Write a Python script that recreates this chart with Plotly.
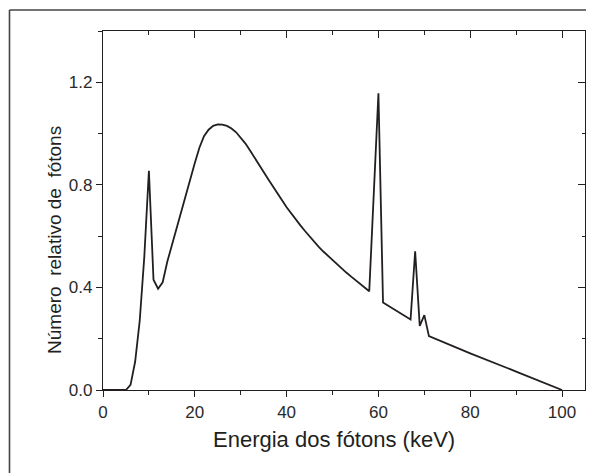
import plotly.graph_objects as go

# Photon energy (keV) and relative number of photons
energia = [0, 1, 2, 3, 4, 5, 6, 7, 8, 9, 10, 11, 12, 13, 14, 15, 16, 17, 18, 19,
           20, 21, 22, 23, 24, 25, 26, 27, 28, 29, 30, 31, 32, 33, 34, 35, 36, 37,
           38, 39, 40, 41, 42, 43, 44, 45, 46, 47, 48, 49, 50, 51, 52, 53, 54, 55,
           56, 57, 58, 60, 61, 67, 68, 69, 70, 71, 80, 90, 100]
numero = [0.0, 0.0, 0.0, 0.0, 0.0, 0.0, 0.02, 0.11, 0.27, 0.52, 0.855, 0.43, 0.395,
          0.42, 0.50, 0.565, 0.635, 0.70, 0.765, 0.83, 0.885, 0.945, 0.99, 1.015,
          1.03, 1.036, 1.035, 1.03, 1.02, 1.005, 0.985, 0.962, 0.935, 0.905, 0.878,
          0.85, 0.822, 0.793, 0.765, 0.74, 0.713, 0.688, 0.664, 0.642, 0.62, 0.598,
          0.578, 0.558, 0.54, 0.523, 0.506, 0.49, 0.474, 0.458, 0.443, 0.428, 0.413,
          0.398, 0.385, 1.157, 0.341, 0.275, 0.541, 0.25, 0.292, 0.21, 0.143, 0.072,
          0.0]

x_ticks = [0, 20, 40, 60, 80, 100]
y_ticks = [0.0, 0.4, 0.8, 1.2]
x_title = "Energia dos fótons (keV)"
y_title = "Número  relativo de  fótons"

INK = "#231f20"
FONT = "Arial, Liberation Sans, sans-serif"

fig = go.Figure()
fig.add_trace(go.Scatter(x=energia, y=numero, mode="lines",
                         line=dict(color=INK, width=1.8), hoverinfo="skip",
                         showlegend=False))
# invisible trace to carry the mirrored (inside-tick) top/right axes
fig.add_trace(go.Scatter(x=energia, y=numero, mode="lines", xaxis="x2", yaxis="y2",
                         line=dict(color="rgba(0,0,0,0)", width=0), hoverinfo="skip",
                         showlegend=False))

axis_common = dict(showgrid=False, zeroline=False, linecolor=INK, linewidth=1.4,
                   tickcolor=INK, tickwidth=1.2,
                   tickfont=dict(family=FONT, size=17, color="#2a2a2a"))

fig.update_layout(
    width=586, height=465,
    margin=dict(l=95, r=9, t=23, b=83),
    paper_bgcolor="white", plot_bgcolor="white",
    xaxis=dict(range=[0, 105], tickvals=x_ticks, ticks="outside", ticklen=6,
               showline=True, mirror=True,
               minor=dict(ticks="outside", ticklen=3.5, dtick=10, tick0=0,
                          tickcolor=INK, tickwidth=1.2),
               **axis_common),
    yaxis=dict(range=[0, 1.4], tickvals=y_ticks, tickformat=".1f", ticks="outside",
               ticklen=6, showline=True, mirror=True,
               minor=dict(ticks="outside", ticklen=3.5, dtick=0.2, tick0=0,
                          tickcolor=INK, tickwidth=1.2),
               **axis_common),
    xaxis2=dict(range=[0, 105], overlaying="x", side="top", anchor="y2",
                tickvals=x_ticks, ticks="inside", ticklen=7, showticklabels=False,
                showline=False, showgrid=False, zeroline=False, tickcolor=INK,
                tickwidth=1.2,
                minor=dict(ticks="inside", ticklen=3.5, dtick=10, tick0=0,
                           tickcolor=INK, tickwidth=1.2)),
    yaxis2=dict(range=[0, 1.4], overlaying="y", side="right", anchor="x2",
                tickvals=y_ticks, ticks="inside", ticklen=7, showticklabels=False,
                showline=False, showgrid=False, zeroline=False, tickcolor=INK,
                tickwidth=1.2,
                minor=dict(ticks="inside", ticklen=3.5, dtick=0.2, tick0=0,
                           tickcolor=INK, tickwidth=1.2)),
    annotations=[
        dict(text=x_title, xref="paper", yref="paper", x=0.480, y=-0.139,
             xanchor="center", yanchor="middle", showarrow=False,
             font=dict(family=FONT, size=22, color=INK)),
        dict(text=y_title, xref="paper", yref="paper", x=-0.0996, y=0.418,
             xanchor="center", yanchor="middle", showarrow=False, textangle=-90,
             font=dict(family=FONT, size=19, color=INK)),
    ],
    shapes=[
        dict(type="line", xref="paper", yref="paper", x0=-0.194, x1=-0.194,
             y0=-0.25, y1=1.0585, line=dict(color="#444444", width=1.6)),
        dict(type="line", xref="paper", yref="paper", x0=-0.194, x1=1.03,
             y0=1.0585, y1=1.0585, line=dict(color="#444444", width=1.6)),
    ],
)

fig.write_html("out.html")
